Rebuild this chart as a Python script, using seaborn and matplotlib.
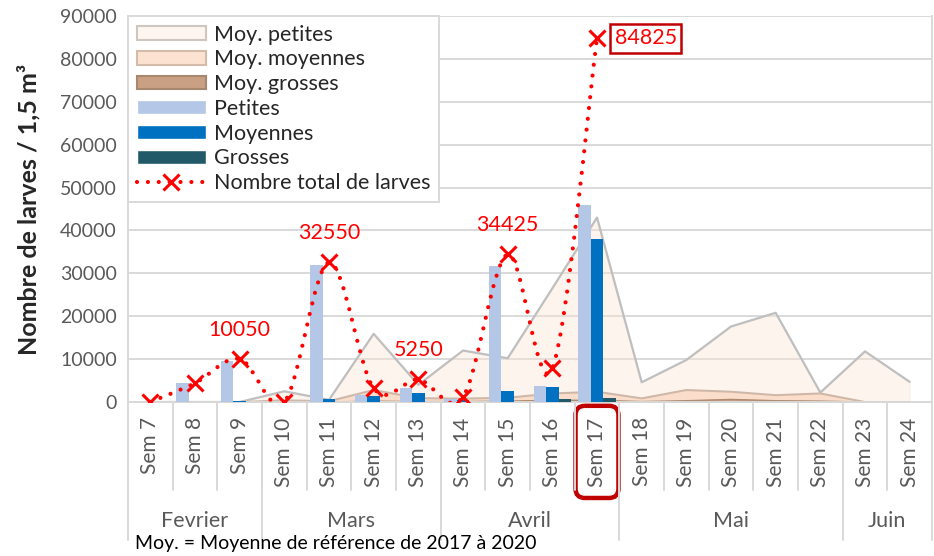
import numpy as np
import pandas as pd
import seaborn as sns
import matplotlib.pyplot as plt
from matplotlib.path import Path
from matplotlib.patches import PathPatch, Patch
from matplotlib.lines import Line2D
from matplotlib.transforms import blended_transform_factory

sns.set_style('white')
plt.rcParams['font.family'] = ['Lato', 'DejaVu Sans']

# --- données ---
semaines = ['Sem 7', 'Sem 8', 'Sem 9', 'Sem 10', 'Sem 11', 'Sem 12', 'Sem 13', 'Sem 14',
            'Sem 15', 'Sem 16', 'Sem 17', 'Sem 18', 'Sem 19', 'Sem 20', 'Sem 21',
            'Sem 22', 'Sem 23', 'Sem 24']
mois = ['Fevrier', 'Mars', 'Avril', 'Mai', 'Juin']
mois_nb_sem = [3, 4, 4, 5, 2]

nan = np.nan
petites = [0, 4400, 9550, 0, 31900, 1600, 3200, 800, 31700, 3700, 46000,
           nan, nan, nan, nan, nan, nan, nan]
moyennes = [0, 0, 300, 0, 600, 1400, 2000, 400, 2650, 3400, 37900,
            nan, nan, nan, nan, nan, nan, nan]
grosses = [0, 0, 0, 0, 0, 0, 0, 0, 0, 600, 850,
           nan, nan, nan, nan, nan, nan, nan]
total = [0, 4400, 10050, 0, 32550, 3200, 5250, 1200, 34425, 7850, 84825]
total_etiquettes = [2, 4, 6, 8, 10]

moy_petites = [0, 0, 0, 2500, 500, 15900, 4000, 12000, 10200, 26500, 43000,
               4600, 9800, 17600, 20800, 2200, 11800, 4700]
moy_moyennes = [0, 0, 0, 400, 200, 2800, 900, 800, 1000, 2000, 2400,
                850, 2800, 2400, 1600, 2000, 0, 0]
moy_grosses = [0, 0, 0, 0, 0, 200, 100, 100, 200, 400, 400,
               100, 300, 600, 300, 200, 0, 0]

c_pet, c_moy, c_gro = '#B4C7E7', '#0070C0', '#215968'
gris = '#595959'
grille = '#D9D9D9'

fig = plt.figure(figsize=(9.34, 5.56), dpi=100)
ax = fig.add_axes([128 / 934, 1 - 402 / 556, 804 / 934, 386 / 556])

x = np.arange(len(semaines))

# moyennes de référence (aires)
ax.fill_between(x, moy_petites, color='#FBE5D6', alpha=0.4, zorder=1)
ax.plot(x, moy_petites, color='#BFBFBF', lw=1.6, zorder=1.1)
ax.fill_between(x, moy_moyennes, color='#F8CBAD', alpha=0.55, zorder=1.2)
ax.plot(x, moy_moyennes, color='#CDB7A8', lw=1.4, zorder=1.3)
ax.fill_between(x, moy_grosses, color='#C9A083', zorder=1.4)
ax.plot(x, moy_grosses, color='#B08A6E', lw=1.0, zorder=1.5)

# barres
df = pd.DataFrame({'semaine': semaines * 3,
                   'taille': ['Petites'] * 18 + ['Moyennes'] * 18 + ['Grosses'] * 18,
                   'valeur': petites + moyennes + grosses})
sns.barplot(data=df, x='semaine', y='valeur', hue='taille', order=semaines,
            hue_order=['Petites', 'Moyennes', 'Grosses'],
            palette={'Petites': c_pet, 'Moyennes': c_moy, 'Grosses': c_gro},
            saturation=1, width=0.84, linewidth=0, errorbar=None,
            legend=False, zorder=3, ax=ax)

# total lissé (courbe de Bézier façon Excel)
pts = np.column_stack([np.arange(len(total)), total]).astype(float)
verts = [pts[0]]
codes = [Path.MOVETO]
for i in range(len(pts) - 1):
    p0 = pts[max(i - 1, 0)]
    p1, p2 = pts[i], pts[i + 1]
    p3 = pts[min(i + 2, len(pts) - 1)]
    verts += [p1 + (p2 - p0) / 6, p2 - (p3 - p1) / 6, p2]
    codes += [Path.CURVE4] * 3
style_pts = (0, (0.01, 2.6))
courbe = PathPatch(Path(verts, codes), fc='none', ec='#FF0000', lw=3.0,
                   ls=style_pts, capstyle='round', zorder=4)
ax.add_patch(courbe)
ax.plot(np.arange(len(total)), total, ls='none', marker='x', ms=11, mew=2.2,
        color='#FF0000', zorder=5)

for i in total_etiquettes:
    if i == 10:
        ax.annotate(f'{total[i]}', (i, total[i]), xytext=(35, 0),
                    textcoords='offset points', ha='center', va='center',
                    color='#FF0000', fontsize=15.5,
                    bbox=dict(boxstyle='square,pad=0.2', fc='white', ec='#C00000', lw=1.8))
    else:
        ax.annotate(f'{total[i]}', (i, total[i]), xytext=(0, 21),
                    textcoords='offset points', ha='center', va='center',
                    color='#FF0000', fontsize=15.5)

# axes
ax.set_xlim(-0.5, len(semaines) - 0.5)
ax.set_ylim(0, 90000)
ax.set_yticks(np.arange(0, 90001, 10000))
ax.yaxis.grid(True, color=grille, lw=1.4, zorder=0)
ax.set_axisbelow(True)
ax.tick_params(axis='y', length=0, pad=8, labelsize=14, labelcolor=gris)
ax.set_xticks(x)
ax.set_xticklabels(semaines, rotation=90, va='top', ha='center')
ax.tick_params(axis='x', length=0, pad=11, labelsize=15, labelcolor=gris)
ax.set_xlabel('')
ax.set_ylabel('Nombre de larves / 1,5 m³', fontsize=18, fontweight='bold', labelpad=14)
for s in ['left', 'bottom', 'right']:
    ax.spines[s].set_color(grille)
    ax.spines[s].set_linewidth(1.4)
ax.spines['top'].set_visible(False)

ax.get_xticklabels()[10].set_bbox(dict(boxstyle='round,pad=0.55,rounding_size=0.45',
                                       fc='none', ec='#C00000', lw=3.2))

# séparateurs et mois
tr = blended_transform_factory(ax.transData, ax.transAxes)
for k in range(len(semaines) - 1):
    ax.plot([k + 0.5, k + 0.5], [0, -0.228], transform=tr, color=grille, lw=1.4,
            clip_on=False)
debut = -0.5
for m, n in zip(mois, mois_nb_sem):
    ax.plot([debut, debut], [0, -0.357], transform=tr, color=grille, lw=1.4, clip_on=False)
    ax.text(debut + n / 2, -0.308, m, transform=tr, ha='center', va='center',
            fontsize=15.5, color=gris)
    debut += n
ax.plot([debut, debut], [0, -0.357], transform=tr, color=grille, lw=1.4, clip_on=False)

# légende
handles = [Patch(fc='#FDF5EF', ec='#CFC6C0', lw=1.5),
           Patch(fc='#FCE2D0', ec='#D4BBAA', lw=1.5),
           Patch(fc='#C9A083', ec='#A8876F', lw=1.5),
           Patch(fc=c_pet), Patch(fc=c_moy), Patch(fc=c_gro),
           Line2D([], [], color='#FF0000', lw=3.0, ls=style_pts,
                  dash_capstyle='round', marker='x', ms=11, mew=2.2)]
labels = ['Moy. petites', 'Moy. moyennes', 'Moy. grosses', 'Petites', 'Moyennes',
          'Grosses', 'Nombre total de larves']
leg = ax.legend(handles, labels, loc='upper left', bbox_to_anchor=(0, 1),
                borderaxespad=0, fontsize=15.5, frameon=True, fancybox=False,
                edgecolor=grille, framealpha=1, handlelength=3.2, handleheight=0.6,
                handletextpad=0.4, labelspacing=0.22, borderpad=0.4)
leg.get_frame().set_linewidth(1.4)
leg.set_zorder(6)

fig.text(135 / 934, 1 - 543 / 556, 'Moy. = Moyenne de référence de 2017 à 2020',
         fontsize=14, color='black', va='center', ha='left')

fig.savefig('out.png', dpi=100)
